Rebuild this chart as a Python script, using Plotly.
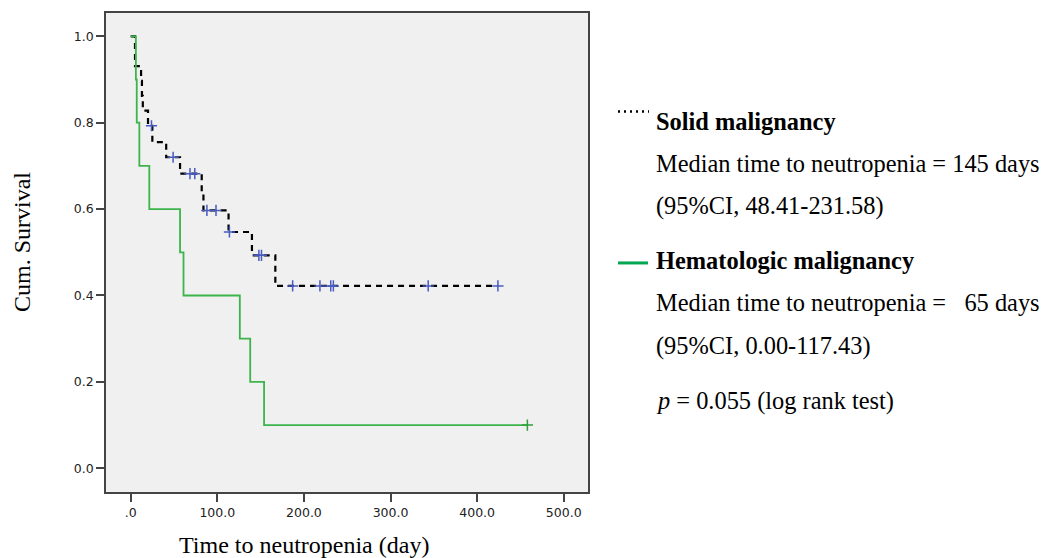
import plotly.graph_objects as go

# ---------------- data ----------------
solid_event_times = [5, 12, 13, 14, 20, 25, 41, 57, 82, 84, 113, 140, 167]
solid_surv = [0.931, 0.897, 0.862, 0.828, 0.793, 0.755, 0.720, 0.682, 0.640, 0.597, 0.547, 0.493, 0.422]
solid_censor_times = [24, 49, 68.5, 74, 88, 98.5, 114, 148, 151, 187, 218.5, 231, 234, 343.5, 424]

heme_event_times = [6, 7, 10, 21.5, 57, 61, 126, 138, 154]
heme_surv = [0.9, 0.8, 0.7, 0.6, 0.5, 0.4, 0.3, 0.2, 0.1]
heme_censor_times = [458]

x_tickvals = [0, 100, 200, 300, 400, 500]
x_ticktext = [".0", "100.0", "200.0", "300.0", "400.0", "500.0"]
y_tickvals = [0.0, 0.2, 0.4, 0.6, 0.8, 1.0]
y_ticktext = ["0.0", "0.2", "0.4", "0.6", "0.8", "1.0"]

legend_lines = [
    ("<b>Solid malignancy</b>", 120),
    ("Median time to neutropenia = 145 days", 162),
    ("(95%CI, 48.41-231.58)", 205),
    ("<b>Hematologic malignancy</b>", 260),
    ("Median time to neutropenia =\u00a0\u00a0\u00a065 days", 302),
    ("(95%CI, 0.00-117.43)", 345),
    ("<i>p</i> = 0.055 (log rank test)", 401),
]

# ---------------- helpers ----------------
W, H = 1043, 558
L, R, T, B = 106, 588, 11, 492


def px(x):
    return (x - L) / (R - L)


def py(y):
    return (B - y) / (B - T)


def km_path(times, surv, end_t):
    xs = [0] + list(times) + [end_t]
    ys = [1.0] + list(surv) + [surv[-1]]
    return xs, ys


def surv_at(t, times, surv):
    s = 1.0
    for ti, si in zip(times, surv):
        if ti <= t:
            s = si
    return s


SERIF = "Liberation Serif, Times New Roman, serif"
SANS = "DejaVu Sans, Arial, sans-serif"
BLUE = "#4a5bbf"
GREEN = "#3cb44b"

fig = go.Figure()

sx, sy = km_path(solid_event_times, solid_surv, max(solid_censor_times))
fig.add_trace(go.Scatter(x=sx, y=sy, mode="lines", line_shape="hv",
                         line=dict(color="black", width=2.2, dash="6px,5px"),
                         showlegend=False, hoverinfo="skip"))
hx, hy = km_path(heme_event_times, heme_surv, max(heme_censor_times))
fig.add_trace(go.Scatter(x=hx, y=hy, mode="lines", line_shape="hv",
                         line=dict(color=GREEN, width=1.8),
                         showlegend=False, hoverinfo="skip"))

fig.add_trace(go.Scatter(
    x=solid_censor_times,
    y=[surv_at(t, solid_event_times, solid_surv) for t in solid_censor_times],
    mode="markers",
    marker=dict(symbol="cross-thin", size=8, line=dict(color=BLUE, width=1.5)),
    showlegend=False, hoverinfo="skip"))
fig.add_trace(go.Scatter(
    x=heme_censor_times,
    y=[surv_at(t, heme_event_times, heme_surv) for t in heme_censor_times],
    mode="markers",
    marker=dict(symbol="cross-thin", size=8, line=dict(color="#2f9e3c", width=1.5)),
    showlegend=False, hoverinfo="skip"))

axis_common = dict(showgrid=False, zeroline=False, ticks="outside", ticklen=8,
                   tickwidth=1.5, tickcolor="#444", showline=True, linecolor="#444",
                   linewidth=1.5, mirror=True,
                   tickfont=dict(family=SANS, size=12.5, color="#222"))

fig.update_layout(
    width=W, height=H, autosize=False,
    margin=dict(l=L, r=W - R, t=T, b=H - B),
    plot_bgcolor="#f0f0f0", paper_bgcolor="white",
    xaxis=dict(range=[-28.5, 528], tickvals=x_tickvals, ticktext=x_ticktext, **axis_common),
    yaxis=dict(range=[-0.055, 1.054], tickvals=y_tickvals, ticktext=y_ticktext, **axis_common),
)

annotations = []
for txt, ypix in legend_lines:
    annotations.append(dict(text=txt, x=px(654), y=py(ypix), xref="paper", yref="paper",
                            xanchor="left", yanchor="middle", showarrow=False,
                            font=dict(family=SERIF, size=24.4, color="black")))
annotations.append(dict(text="Time to neutropenia (day)", x=px(303.5), y=py(545),
                        xref="paper", yref="paper", xanchor="center", yanchor="middle",
                        showarrow=False, font=dict(family=SERIF, size=24, color="black")))
annotations.append(dict(text="Cum. Survival", x=px(22), y=py(241), textangle=-90,
                        xref="paper", yref="paper", xanchor="center", yanchor="middle",
                        showarrow=False, font=dict(family=SERIF, size=24, color="black")))
fig.update_layout(annotations=annotations)

fig.add_shape(type="line", xref="paper", yref="paper", x0=px(618), x1=px(649),
              y0=py(110), y1=py(110), line=dict(color="black", width=2.5, dash="2px,4px"))
fig.add_shape(type="line", xref="paper", yref="paper", x0=px(618), x1=px(648),
              y0=py(262), y1=py(262), line=dict(color="#00a650", width=3))

fig.write_html("out.html", config={"displayModeBar": False},
               post_script="document.body.style.margin='0';document.body.style.overflow='hidden';")
